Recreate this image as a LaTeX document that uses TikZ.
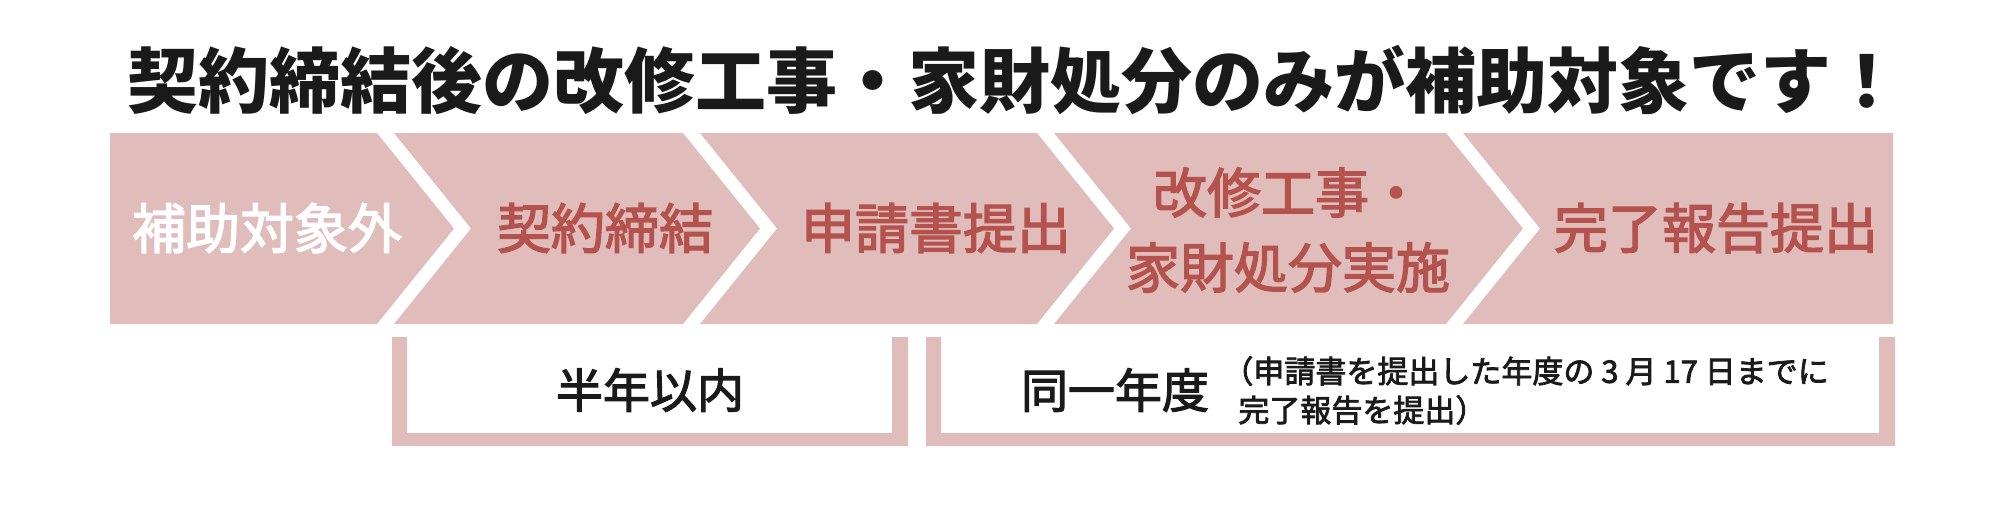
\documentclass[tikz,border=0pt]{standalone}
\usepackage{fontspec}
\newfontfamily\jp{Noto Sans CJK JP}
\newfontfamily\jpmed[FakeBold=2.5]{Noto Sans CJK JP}
\definecolor{band}{HTML}{E0BCBB}
\definecolor{stepred}{HTML}{B4524E}
\definecolor{ink}{HTML}{1A1A1A}
\tikzset{
  bandshape/.style={fill=band, draw=none},
  steplabel/.style={font=\jpmed\fontsize{27pt}{37.5pt}\selectfont, text=stepred, inner sep=0pt, align=center},
  firstlabel/.style={steplabel, text=white},
  titlelabel/.style={font=\jp\bfseries\fontsize{35.5pt}{40pt}\selectfont, text=ink, inner sep=0pt},
  periodlabel/.style={font=\jpmed\fontsize{23.5pt}{28pt}\selectfont, text=ink, inner sep=0pt},
  notelabel/.style={font=\jpmed\fontsize{15.5pt}{19.5pt}\selectfont, text=ink, inner sep=0pt, anchor=west},
}
\begin{document}
\begin{tikzpicture}[x=0.5pt,y=-0.5pt]
\useasboundingbox (0,0) rectangle (2000,511);
% title
\node[titlelabel] (title) at (1015,80) {契約締結後の改修工事・家財処分のみが補助対象です！};
% chevrons
\path[bandshape] (110,133) -- (377,133) -- (454,228.5) -- (377,324) -- (110,324) -- cycle;
\path[bandshape] (394,133) -- (683,133) -- (760,228.5) -- (683,324) -- (394,324) -- (471,228.5) -- cycle;
\path[bandshape] (700,133) -- (1037,133) -- (1114,228.5) -- (1037,324) -- (700,324) -- (777,228.5) -- cycle;
\path[bandshape] (1054,133) -- (1446,133) -- (1523,228.5) -- (1446,324) -- (1054,324) -- (1131,228.5) -- cycle;
\path[bandshape] (1463,133) -- (1893,133) -- (1893,324) -- (1463,324) -- (1540,228.5) -- cycle;
% step labels
\node[firstlabel] (s1) at (267,228) {補助対象外};
\node[steplabel] (s2) at (605,228) {契約締結};
\node[steplabel] (s3) at (936,228) {申請書提出};
\node[steplabel] (s4) at (1288,230) {改修工事・\\家財処分実施};
\node[steplabel] (s5) at (1716,228) {完了報告提出};
% brackets
\path[bandshape] (392,337) -- (392,446) -- (908,446) -- (908,337) -- (892,337) -- (892,433) -- (407,433) -- (407,337) -- cycle;
\path[bandshape] (926,337) -- (926,446) -- (1895,446) -- (1895,337) -- (1879,337) -- (1879,433) -- (941,433) -- (941,337) -- cycle;
% bracket texts
\node[periodlabel] (p1) at (650,390) {半年以内};
\node[periodlabel] (p2) at (1115,390) {同一年度};
\node[notelabel] (n1) at (1222,371) {（申請書を提出した年度の 3 月 17 日までに};
\node[notelabel] (n2) at (1238,410) {完了報告を提出）};
\end{tikzpicture}
\end{document}
